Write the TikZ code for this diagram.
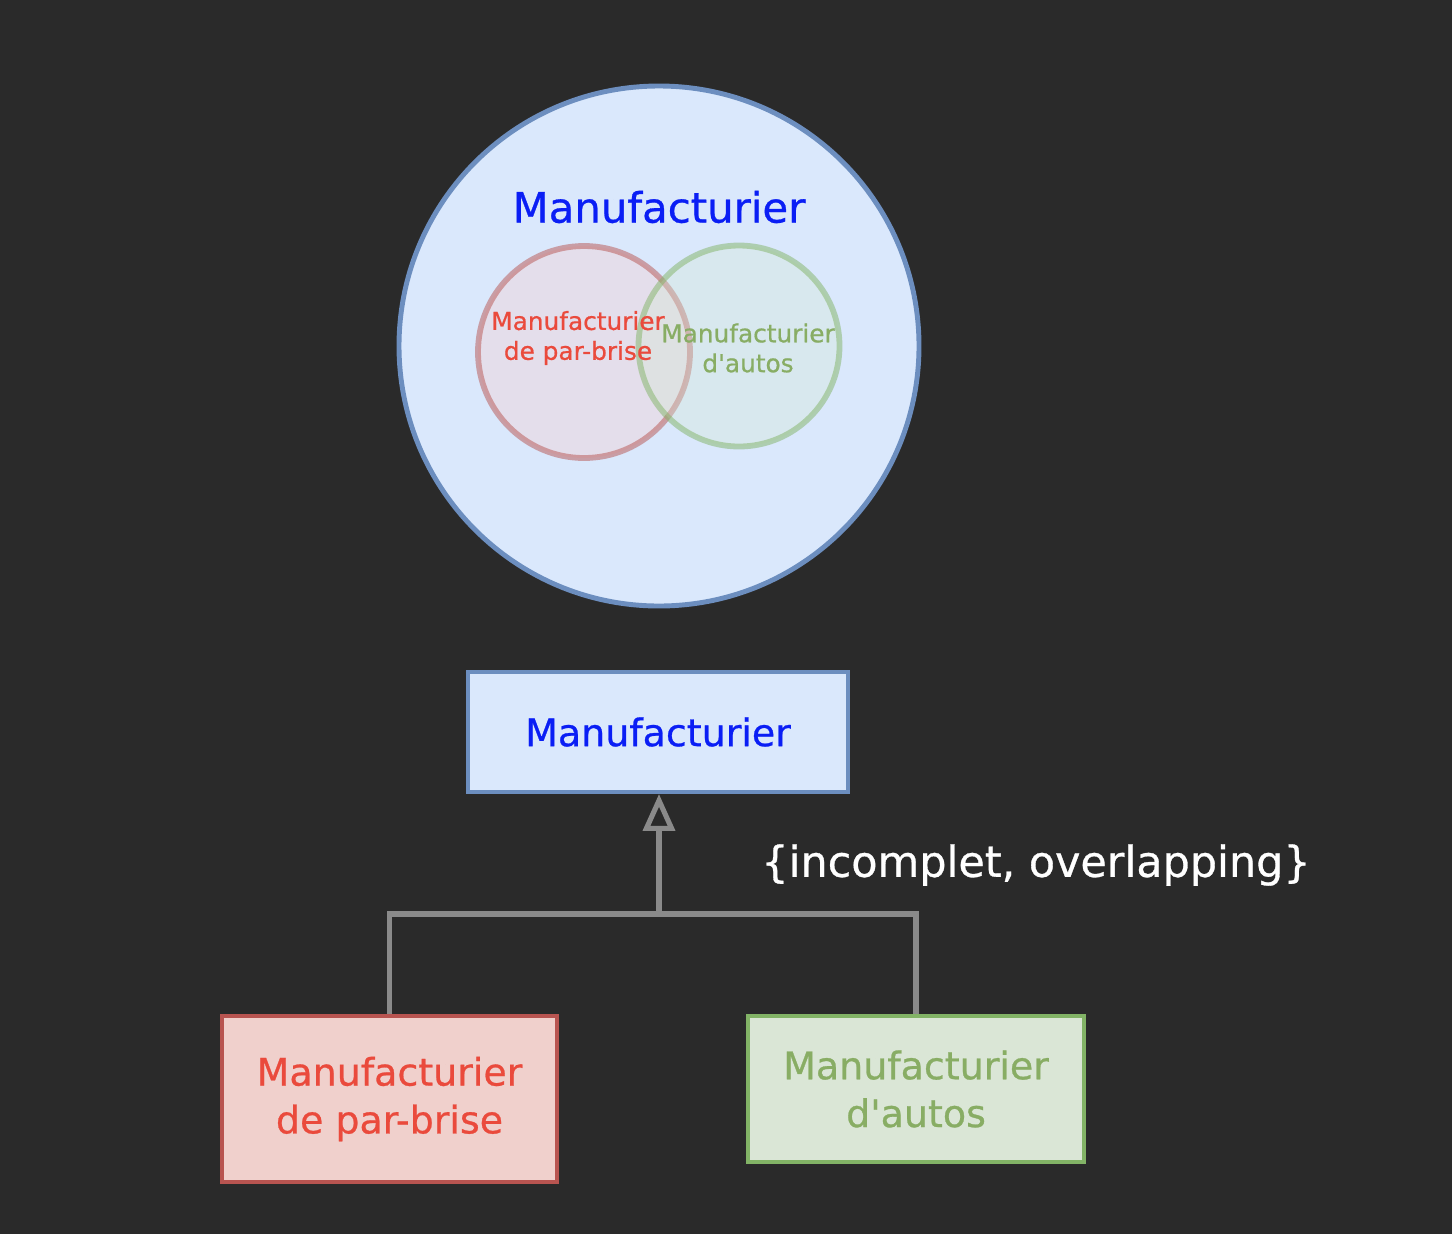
\documentclass[tikz,border=0pt]{standalone}
\usepackage{fontspec}
\newfontfamily\cfont[FakeBold=0.7]{DejaVu Sans}
\usetikzlibrary{arrows.meta}
\definecolor{bgc}{HTML}{2A2A2A}
\definecolor{bluefill}{HTML}{DAE8FC}
\definecolor{bluestroke}{HTML}{6C8EBF}
\definecolor{redfill}{HTML}{F8CECC}
\definecolor{redboxfill}{HTML}{F0D0CC}
\definecolor{redstroke}{HTML}{B85450}
\definecolor{greenfill}{HTML}{D5E8D4}
\definecolor{greenboxfill}{HTML}{DAE6D6}
\definecolor{greenstroke}{HTML}{82B366}
\definecolor{redtxt}{HTML}{EA4A3C}
\definecolor{greentxt}{HTML}{88AD64}
\definecolor{bluetxt}{HTML}{0A1EF5}
\definecolor{linec}{HTML}{8A8A8A}
\tikzset{
  bigtxt/.style={font=\fontsize{23.8}{27}\cfont},
  boxtxt/.style={font=\fontsize{21.6}{27.2}\cfont, align=center},
  smalltxt/.style={font=\fontsize{14.1}{17}\cfont, align=center},
  conn/.style={draw=linec, line width=2.9pt},
}
\begin{document}
\begin{tikzpicture}[x=0.02cm, y=-0.02cm]
\fill[bgc] (0,0) rectangle (1452,1234);
% Venn
\node[circle, draw=bluestroke, fill=bluefill, line width=2.8pt, minimum size=520*0.02cm, inner sep=0pt] (big) at (659,346) {};
\node[bigtxt, text=bluetxt] (bigt) at (659,207) {Manufacturier};
\node[circle, draw=redstroke, fill=redfill, draw opacity=0.5, fill opacity=0.35, line width=3.3pt, minimum size=212*0.02cm, inner sep=0pt] (rc) at (584,352) {};
\node[circle, draw=greenstroke, fill=greenfill, draw opacity=0.5, fill opacity=0.35, line width=3.3pt, minimum size=201*0.02cm, inner sep=0pt] (gc) at (739,346) {};
\node[smalltxt, text=redtxt] (rct) at (578,338) {Manufacturier\\de par-brise};
\node[smalltxt, text=greentxt] (gct) at (748,348) {Manufacturier\\d'autos};
% hierarchy
\node[draw=bluestroke, fill=bluefill, line width=2pt, minimum width=380*0.02cm, minimum height=120*0.02cm, inner sep=0pt, boxtxt, text=bluetxt] (top) at (658,732) {Manufacturier};
\node[draw=redstroke, fill=redboxfill, line width=2pt, minimum width=335*0.02cm, minimum height=166*0.02cm, inner sep=0pt, boxtxt, text=redtxt] (red) at (389.5,1099) {Manufacturier\\de par-brise};
\node[draw=greenstroke, fill=greenboxfill, line width=2pt, minimum width=336*0.02cm, minimum height=146*0.02cm, inner sep=0pt, boxtxt, text=greentxt] (green) at (916,1089) {Manufacturier\\d'autos};
\coordinate (junc) at (659,914);
\draw[conn] (red.north) |- (junc) -| (green.north);
\draw[conn, -{Triangle[open, length=21pt, width=18pt, line width=2.9pt]}] (junc) -- (659,794);
\node[text=white, font=\fontsize{24.4}{28}\cfont] (lbl) at (1036,865) {\{incomplet, overlapping\}};
\end{tikzpicture}
\end{document}
